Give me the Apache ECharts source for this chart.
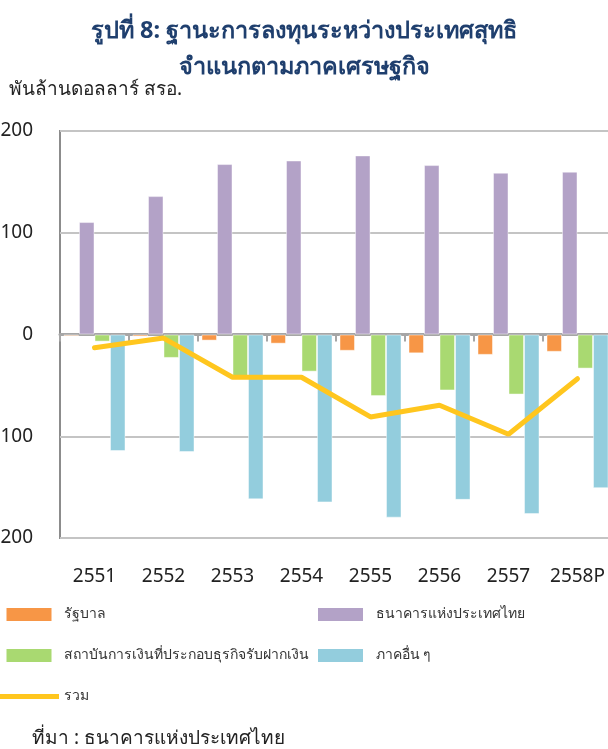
<!DOCTYPE html>
<html>
<head>
<meta charset="utf-8">
<script src="https://cdn.jsdelivr.net/npm/echarts@6/dist/echarts.min.js"></script>
<style>
  html, body { margin: 0; padding: 0; background: #fff; }
  #chart { width: 608px; height: 749px; }
</style>
</head>
<body>
<div id="chart"></div>
<script>
var years = ['2551', '2552', '2553', '2554', '2555', '2556', '2557', '2558P'];
var government = [-1.5, -2, -6, -9, -16, -18.5, -20, -17];
var bot = [110.5, 136, 167.5, 171, 176, 166.5, 159, 160];
var depository = [-7, -23, -43, -36.5, -60.5, -55, -59, -33.5];
var others = [-114.5, -115.5, -162, -165, -180, -162.5, -176.5, -151];
var total = [-13, -3.5, -42, -42, -81, -69.5, -98, -43.5];

var names = ['รัฐบาล', 'ธนาคารแห่งประเทศไทย', 'สถาบันการเงินที่ประกอบธุรกิจรับฝากเงิน', 'ภาคอื่น ๆ', 'รวม'];
var colors = ['#F79646', '#B3A2C7', '#A9D971', '#93CDDD', '#FFC61E'];
var font = 'Noto Sans, sans-serif';

var myChart = echarts.init(document.getElementById('chart'));

function barSeries(i, values) {
    return {
        name: names[i],
        type: 'bar',
        data: values,
        barWidth: 15.5,
        barGap: '0%',
        itemStyle: {
            color: colors[i],
            borderColor: 'rgba(255,255,255,0.45)',
            borderWidth: 1
        }
    };
}

// legend swatches, kept to their own aspect inside itemWidth x itemHeight
var boxIcon = 'path://M0,0h45v13h-45z';
var lineIcon = 'path://M0,0h52v4.5h-52z';
var legendText = { fontFamily: font, fontSize: 14, lineHeight: 15, color: '#333' };

var option = {
    animation: false,
    textStyle: { fontFamily: font },
    title: [
        {
            text: 'รูปที่ 8: ฐานะการลงทุนระหว่างประเทศสุทธิ',
            left: 'center',
            top: 14,
            textStyle: { fontFamily: font, fontSize: 23.5, fontWeight: 'bold', color: '#1F3F6E' }
        },
        {
            text: 'จำแนกตามภาคเศรษฐกิจ',
            left: 'center',
            top: 50,
            textStyle: { fontFamily: font, fontSize: 23.5, fontWeight: 'bold', color: '#1F3F6E' }
        },
        {
            text: 'พันล้านดอลลาร์ สรอ.',
            left: 4,
            top: 75,
            textStyle: { fontFamily: font, fontSize: 19, fontWeight: 'normal', color: '#222' }
        },
        {
            text: 'ที่มา : ธนาคารแห่งประเทศไทย',
            left: 27,
            top: 724,
            textStyle: { fontFamily: font, fontSize: 19, fontWeight: 'normal', color: '#222' }
        }
    ],
    legend: [
        {
            data: [
                { name: names[0], icon: boxIcon },
                { name: names[2], icon: boxIcon },
                { name: names[4], icon: lineIcon }
            ],
            orient: 'vertical',
            left: -6,
            top: 602,
            itemWidth: 60,
            itemHeight: 13,
            itemGap: 26,
            symbolKeepAspect: true,
            itemStyle: { borderWidth: 0 },
            textStyle: legendText,
            selectedMode: false
        },
        {
            data: [{ name: names[1], icon: boxIcon }, { name: names[3], icon: boxIcon }],
            orient: 'vertical',
            left: 313,
            top: 602,
            itemWidth: 60,
            itemHeight: 13,
            itemGap: 26,
            symbolKeepAspect: true,
            itemStyle: { borderWidth: 0 },
            textStyle: legendText,
            selectedMode: false
        }
    ],
    grid: {
        left: 60,
        right: -4,
        top: 131,
        bottom: 211,
        show: true,
        borderColor: '#8c8c8c',
        borderWidth: 2,
        containLabel: false,
        outerBoundsMode: 'none'
    },
    xAxis: [
        {
            type: 'category',
            data: years,
            position: 'bottom',
            axisLine: { show: false, onZero: false },
            axisTick: { show: false },
            axisLabel: { fontFamily: font, fontSize: 19, color: '#222', margin: 29, interval: 0 }
        },
        {
            type: 'category',
            data: years,
            position: 'bottom',
            axisLine: { show: true, onZero: true, lineStyle: { color: '#a6a6a6', width: 3 } },
            axisTick: { show: true, interval: 0, length: 7, lineStyle: { color: '#a6a6a6', width: 2 } },
            axisLabel: { show: false }
        }
    ],
    yAxis: {
        type: 'value',
        min: -200,
        max: 200,
        interval: 100,
        axisLine: { show: false },
        axisTick: { show: false },
        axisLabel: { fontFamily: font, fontSize: 19, color: '#222', margin: 27 },
        splitLine: { lineStyle: { color: '#c4c4c4', width: 2 } }
    },
    series: [
        barSeries(0, government),
        barSeries(1, bot),
        barSeries(2, depository),
        barSeries(3, others),
        {
            name: names[4],
            type: 'line',
            data: total,
            symbol: 'none',
            z: 5,
            itemStyle: { color: colors[4] },
            lineStyle: { color: colors[4], width: 5, cap: 'round' }
        }
    ]
};
myChart.setOption(option);
</script>
</body>
</html>
